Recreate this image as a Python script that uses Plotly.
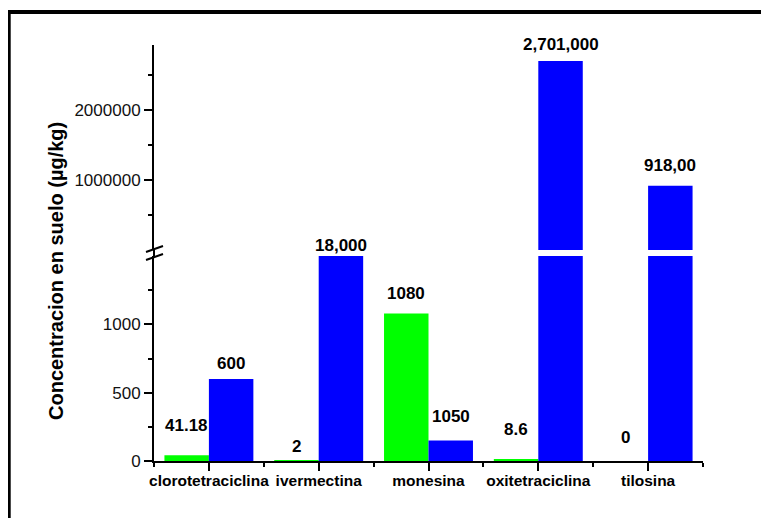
import plotly.graph_objects as go

# ---- data ----
categories = ["clorotetraciclina", "ivermectina", "monesina", "oxitetraciclina", "tilosina"]
green_values = [41.18, 2, 1080, 8.6, 0]
blue_values = [600, 18000, 150, 2701000, 918000]
green_labels = ["41.18", "2", "1080", "8.6", "0"]
blue_labels = ["600", "18,000", "1050", "2,701,000", "918,00"]

lower_ticks = [0, 500, 1000]
lower_minor = [250, 750, 1250]
upper_ticks = [1000000, 2000000]
upper_minor = [500000, 1500000, 2500000]

# ---- style / layout constants ----
OFF = 8                                  # page body margin of the browser
W, H = 769 - OFF, 518 - OFF
L, R, T, B = 154, 703, 45, 461           # plot area in reference px
LOWER_TOP = 256                          # px of lower segment top
UPPER_BOT = 250                          # px of upper segment bottom
LOWER_MAX = 1500
UPPER_MAX = 2928571
BARGAP = 0.19
GREEN, BLUE = "#00FF00", "#0000FF"
FONT = "Liberation Sans, Arial, sans-serif"
green_gap = [30, 14, 20, 30, 24]         # label centre offset above bar (px)
blue_gap = [16, 11, 24, 16, 20]

ph = B - T
def py(p):  # reference px -> paper y
    return (B - p) / ph
def px(p):
    return (p - L) / (R - L)

x = list(range(len(categories)))
bw = (1 - BARGAP) / 2

fig = go.Figure()
fig.add_trace(go.Bar(x=x, y=green_values, width=bw, offset=-bw,
                     marker=dict(color=GREEN, line=dict(width=0)),
                     yaxis="y", showlegend=False, hoverinfo="skip"))
fig.add_trace(go.Bar(x=x, y=blue_values, width=bw, offset=0,
                     marker=dict(color=BLUE, line=dict(width=0)),
                     yaxis="y", showlegend=False, hoverinfo="skip"))
upper_blue = [v if v > LOWER_MAX * 100 else None for v in blue_values]
fig.add_trace(go.Bar(x=x, y=upper_blue, width=bw, offset=0,
                     marker=dict(color=BLUE, line=dict(width=0)),
                     yaxis="y2", showlegend=False, hoverinfo="skip"))

annotations = []
for vals, labs, gaps, sgn in [(green_values, green_labels, green_gap, -1),
                              (blue_values, blue_labels, blue_gap, 1)]:
    for i, (v, t, g) in enumerate(zip(vals, labs, gaps)):
        if v <= LOWER_MAX:
            yref, yv = "y", v
        elif v > LOWER_MAX * 100:
            yref, yv = "y2", v
        else:
            yref, yv = "y", LOWER_MAX
        annotations.append(dict(x=x[i] + sgn * bw / 2, y=yv, xref="x", yref=yref,
                                text="<b>%s</b>" % t,
                                showarrow=False, yanchor="middle", xanchor="center",
                                yshift=g, font=dict(family=FONT, size=17, color="black")))

annotations.append(dict(x=px(56), y=py(271), xref="paper", yref="paper",
                        text="<b>Concentracion en suelo (µg/kg)</b>", textangle=-90,
                        showarrow=False, xanchor="center", yanchor="middle",
                        font=dict(family=FONT, size=20, color="black")))

shapes = [
    # outer frame
    dict(type="rect", xref="paper", yref="paper", x0=px(8.7), x1=px(800), y0=py(560), y1=py(12),
         line=dict(color="black", width=4), fillcolor="rgba(0,0,0,0)", layer="below"),
    # axis line through the break
    dict(type="line", xref="paper", yref="paper", x0=0, x1=0, y0=py(LOWER_TOP), y1=py(UPPER_BOT),
         line=dict(color="black", width=2)),
    # break marks
    dict(type="line", xref="paper", yref="paper", x0=px(146), x1=px(163), y0=py(252), y1=py(246),
         line=dict(color="black", width=2)),
    dict(type="line", xref="paper", yref="paper", x0=px(146), x1=px(163), y0=py(260), y1=py(254),
         line=dict(color="black", width=2)),
]

tickfont = dict(family=FONT, size=17, color="#111111")
fig.update_layout(
    width=W, height=H,
    margin=dict(l=L - OFF, r=769 - R, t=T - OFF, b=518 - B, pad=0),
    paper_bgcolor="white", plot_bgcolor="white",
    barmode="overlay",
    xaxis=dict(range=[-0.5, len(categories) - 0.5], tickvals=x,
               ticktext=["<b>%s</b>" % c for c in categories],
               tickfont=dict(family=FONT, size=15.5, color="black"),
               ticklabelstandoff=-4,
               showline=True, linecolor="black", linewidth=2, ticks="outside", ticklen=8,
               tickwidth=2, tickcolor="black", showgrid=False, zeroline=False,
               minor=dict(tickvals=[i + 0.5 for i in range(-1, len(categories))], ticks="outside",
                          ticklen=4, tickwidth=2, tickcolor="black", showgrid=False),
               anchor="y", fixedrange=True),
    yaxis=dict(domain=[0, py(LOWER_TOP)], range=[0, LOWER_MAX], tickvals=lower_ticks,
               tickfont=tickfont, showline=True, linecolor="black", linewidth=2,
               ticks="outside", ticklen=8, tickwidth=2, tickcolor="black",
               showgrid=False, zeroline=False,
               minor=dict(tickvals=lower_minor, ticks="outside", ticklen=4, tickwidth=2,
                          tickcolor="black", showgrid=False),
               anchor="x"),
    yaxis2=dict(domain=[py(UPPER_BOT), 1], range=[0, UPPER_MAX], tickvals=upper_ticks,
                tickformat="d",
                tickfont=tickfont, showline=True, linecolor="black", linewidth=2,
                ticks="outside", ticklen=8, tickwidth=2, tickcolor="black",
                showgrid=False, zeroline=False,
                minor=dict(tickvals=upper_minor, ticks="outside", ticklen=4, tickwidth=2,
                           tickcolor="black", showgrid=False),
                anchor="x"),
    annotations=annotations,
    shapes=shapes,
)

fig.write_html("out.html")
